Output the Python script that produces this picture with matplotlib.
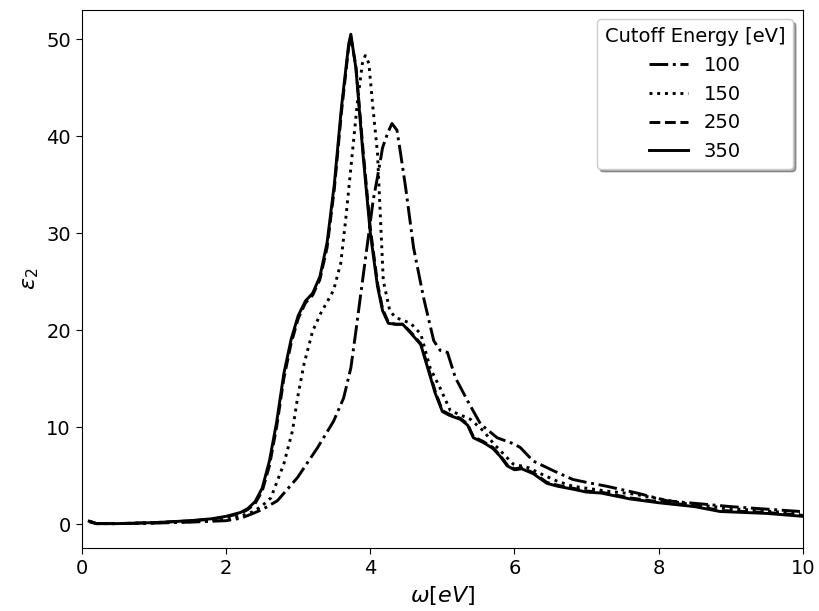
import matplotlib
matplotlib.use('Agg')
import matplotlib.pyplot as plt

# cutoff energy 350 eV (solid)
x350 = [0.1, 0.2, 0.5, 1.0, 1.5, 1.8, 2.0, 2.2, 2.3, 2.4, 2.5, 2.6, 2.7, 2.8, 2.9,
        3.0, 3.1, 3.2, 3.3, 3.4, 3.5, 3.6, 3.7, 3.73, 3.8, 3.9, 4.0, 4.1, 4.17, 4.25,
        4.35, 4.45, 4.56, 4.7, 4.8, 4.9, 5.0, 5.1, 5.25, 5.35, 5.43, 5.57, 5.7, 5.8,
        5.9, 6.0, 6.1, 6.26, 6.45, 6.6, 6.81, 7.0, 7.2, 7.4, 7.6, 8.0, 8.5, 8.85, 9.5, 10.0]
y350 = [0.3, 0.05, 0.05, 0.15, 0.35, 0.55, 0.8, 1.2, 1.6, 2.3, 3.7, 6.5, 10.5, 15.5, 19.0,
        21.5, 23.0, 23.8, 25.5, 29.0, 35.0, 43.0, 49.5, 50.5, 47.0, 38.0, 30.0, 24.5, 22.0, 20.7,
        20.6, 20.6, 19.7, 18.5, 16.0, 13.5, 11.6, 11.2, 10.8, 10.2, 8.9, 8.4, 7.8, 7.0,
        6.0, 5.6, 5.7, 5.2, 4.2, 3.9, 3.6, 3.3, 3.2, 2.9, 2.6, 2.2, 1.8, 1.3, 1.1, 0.8]

# cutoff energy 250 eV (dashed)
x250 = [0.1, 0.2, 0.5, 1.0, 1.5, 1.8, 2.0, 2.2, 2.3, 2.4, 2.5, 2.6, 2.7, 2.8, 2.9,
        3.0, 3.1, 3.2, 3.3, 3.4, 3.5, 3.6, 3.7, 3.73, 3.8, 3.9, 4.0, 4.1, 4.17, 4.25,
        4.35, 4.45, 4.56, 4.7, 4.8, 4.9, 5.0, 5.1, 5.25, 5.35, 5.43, 5.57, 5.7, 5.8,
        5.9, 6.0, 6.1, 6.26, 6.45, 6.6, 6.81, 7.0, 7.2, 7.4, 7.6, 8.0, 8.5, 8.85, 9.5, 10.0]
y250 = [0.3, 0.05, 0.05, 0.15, 0.33, 0.5, 0.75, 1.1, 1.5, 2.1, 3.4, 6.0, 10.0, 15.0, 18.6,
        21.2, 22.8, 23.6, 25.2, 28.5, 34.5, 42.5, 49.2, 50.2, 47.2, 38.5, 30.5, 24.8, 22.2, 20.8,
        20.6, 20.6, 19.8, 18.6, 16.2, 13.7, 11.7, 11.3, 10.9, 10.3, 9.0, 8.5, 7.9, 7.1,
        6.1, 5.7, 5.8, 5.3, 4.3, 4.0, 3.7, 3.4, 3.3, 3.0, 2.7, 2.3, 1.9, 1.4, 1.2, 0.9]

# cutoff energy 150 eV (dotted)
x150 = [0.1, 0.2, 0.5, 1.0, 1.5, 2.0, 2.2, 2.38, 2.5, 2.62, 2.8, 2.92, 2.99, 3.08, 3.2,
        3.31, 3.49, 3.59, 3.66, 3.75, 3.82, 3.89, 3.93, 3.98, 4.03, 4.1, 4.18, 4.27, 4.35,
        4.56, 4.7, 4.83, 4.97, 5.11, 5.39, 5.57, 5.71, 5.98, 6.2, 6.36, 6.6, 6.81, 7.0,
        7.28, 7.65, 8.3, 9.0, 9.96]
y150 = [0.3, 0.05, 0.05, 0.12, 0.25, 0.5, 0.8, 1.3, 1.9, 2.7, 6.2, 9.6, 13.0, 16.5, 19.9,
        21.7, 24.1, 26.9, 31.5, 38.2, 43.4, 47.5, 48.3, 47.5, 43.4, 38.2, 25.1, 22.0, 21.3,
        20.7, 19.6, 16.1, 14.0, 11.7, 10.8, 9.6, 8.3, 6.2, 5.8, 5.2, 4.4, 3.9, 3.7,
        3.4, 3.1, 2.2, 1.6, 1.1]

# cutoff energy 100 eV (dash-dot)
x100 = [0.1, 0.2, 0.5, 1.0, 1.5, 2.0, 2.2, 2.34, 2.5, 2.71, 2.99, 3.27, 3.49, 3.63, 3.73,
        3.8, 3.86, 3.96, 4.04, 4.1, 4.17, 4.24, 4.3, 4.37, 4.42, 4.49, 4.6, 4.74, 4.88,
        4.97, 5.07, 5.18, 5.35, 5.53, 5.76, 5.98, 6.08, 6.26, 6.54, 6.81, 7.0, 7.28, 7.7,
        8.12, 9.0, 9.96]
y100 = [0.25, 0.05, 0.05, 0.1, 0.2, 0.35, 0.6, 1.0, 1.5, 2.4, 4.8, 7.9, 10.6, 13.0, 16.1,
        19.9, 23.3, 28.9, 33.4, 35.8, 38.8, 40.3, 41.3, 40.6, 38.2, 34.7, 28.5, 23.3, 18.9,
        17.9, 17.7, 15.1, 12.7, 10.3, 8.9, 8.3, 7.9, 6.5, 5.5, 4.6, 4.3, 3.9, 3.2,
        2.4, 1.8, 1.3]

fig, ax = plt.subplots(figsize=(8.2, 6.11), dpi=100)
fig.subplots_adjust(left=0.1, right=0.979, top=0.984, bottom=0.103)

ax.plot(x100, y100, color='black', lw=2.1, ls='-.', label='100')
ax.plot(x150, y150, color='black', lw=2.1, ls=':', label='150')
ax.plot(x250, y250, color='black', lw=2.1, ls='--', label='250')
ax.plot(x350, y350, color='black', lw=2.1, ls='-', label='350')

ax.set_xlim(0, 10)
ax.set_xlabel(r'$\omega[eV]$', fontsize=16)
ax.set_ylabel(r'$\epsilon_2$', fontsize=16)
ax.tick_params(labelsize=14, length=4.5)

leg = ax.legend(title='Cutoff Energy [eV]', loc='upper right', shadow=True,
                fontsize=14, title_fontsize=14, framealpha=1)

fig.savefig('out.png', dpi=100)
